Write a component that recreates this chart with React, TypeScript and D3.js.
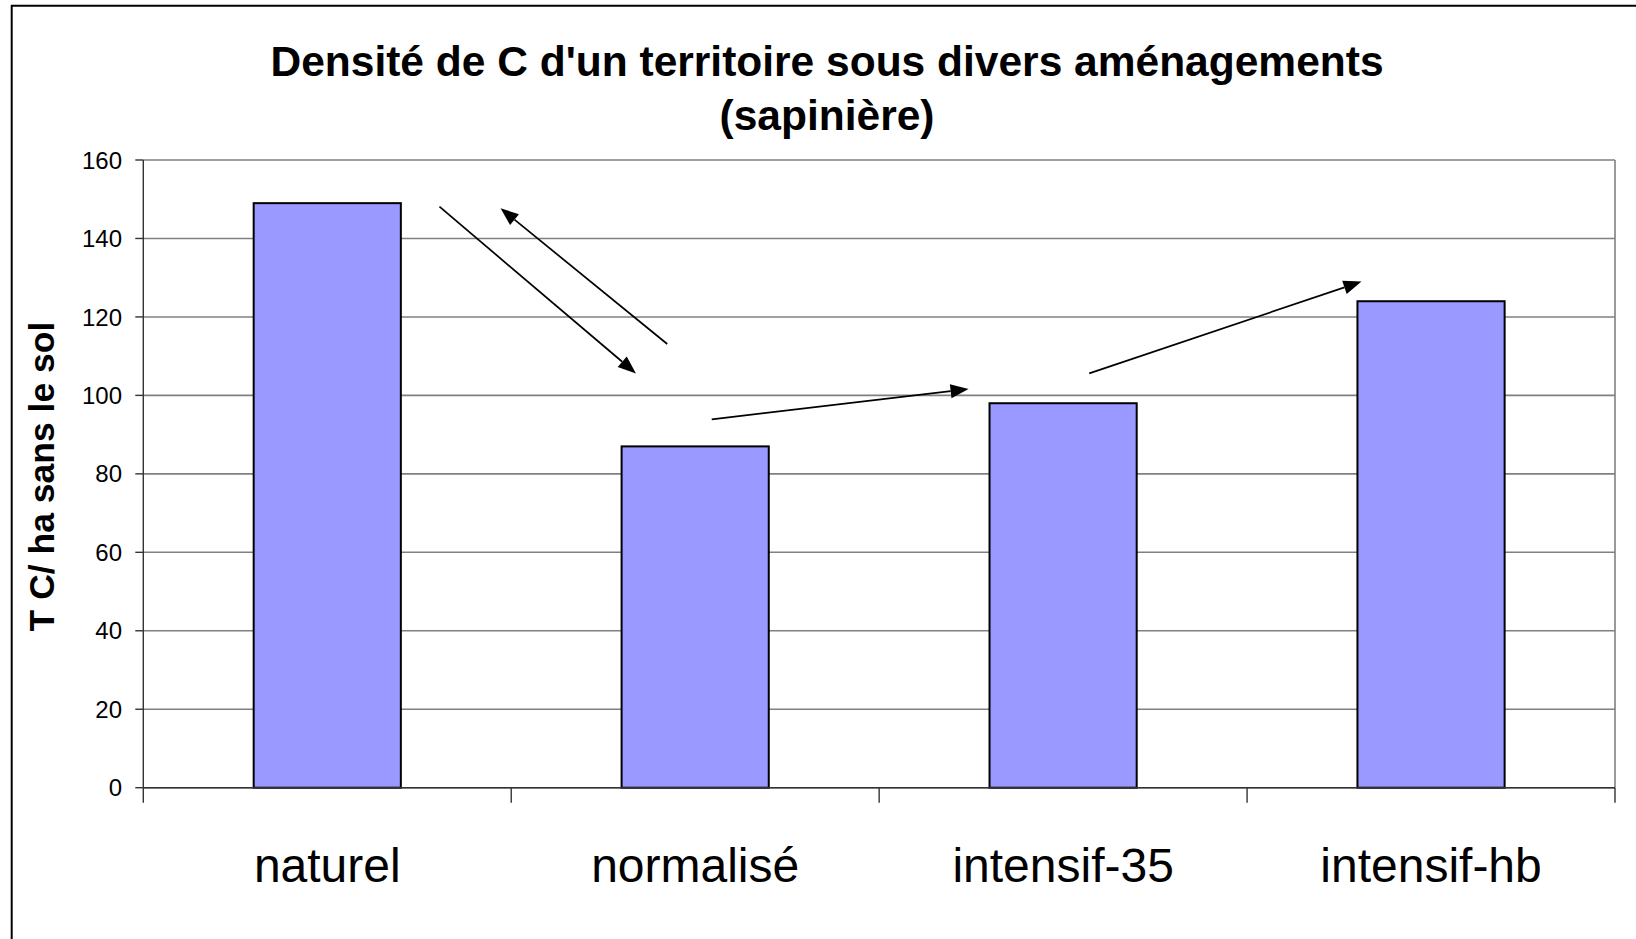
import React from "react";
import * as d3 from "d3";

const categories: string[] = ["naturel", "normalisé", "intensif-35", "intensif-hb"];
const values: number[] = [149, 87, 98, 124];
const yTicks: number[] = [0, 20, 40, 60, 80, 100, 120, 140, 160];
const titleLines: string[] = ["Densité de C d'un territoire sous divers aménagements", "(sapinière)"];
const yLabel = "T C/ ha sans le sol";
// arrows in data coordinates: [categoryPosition, value] start -> end (category position 0..4 along axis)
const arrowStarts: [number, number][] = [[0.805, 148.1], [1.424, 113.1], [1.545, 93.9], [2.571, 105.6]];
const arrowEnds: [number, number][] = [[1.339, 105.6], [0.971, 147.7], [2.243, 101.6], [3.311, 129.0]];

const W = 1636;
const H = 939;
const plot = { left: 143.3, right: 1615, top: 160, bottom: 787.7 };
const FONT = "'Liberation Sans', Arial, Helvetica, sans-serif";

export default function App() {
  const x = d3.scaleBand<string>().domain(categories).range([plot.left, plot.right]).paddingInner(0.6).paddingOuter(0.3);
  const xLin = d3.scaleLinear().domain([0, categories.length]).range([plot.left, plot.right]);
  const y = d3.scaleLinear().domain([0, 160]).range([plot.bottom, plot.top]);
  const boundaries = d3.range(categories.length + 1).map((i) => xLin(i));

  const headLen = 18;
  const headHalf = 7;

  return (
    <svg
      width={W}
      height={H}
      style={{ position: "absolute", left: 0, top: 0, display: "block", background: "#fff" }}
      fontFamily={FONT}
    >
      <rect x={0} y={0} width={W} height={H} fill="#fff" />
      {/* outer frame */}
      <line x1={11.7} y1={5} x2={11.7} y2={H} stroke="#000" strokeWidth={2} />
      <line x1={11} y1={5.7} x2={W} y2={5.7} stroke="#000" strokeWidth={2} />

      {/* title */}
      {titleLines.map((t, i) => (
        <text key={t} x={827} y={76 + i * 54} textAnchor="middle" fontWeight="bold" fontSize={42.5} fill="#000">
          {t}
        </text>
      ))}

      {/* gridlines */}
      {yTicks.map((t) => (
        <line key={"g" + t} x1={plot.left} x2={plot.right} y1={y(t)} y2={y(t)} stroke="#808080" strokeWidth={1.6} />
      ))}
      {/* plot right border */}
      <line x1={plot.right} x2={plot.right} y1={plot.top} y2={plot.bottom} stroke="#808080" strokeWidth={1.6} />

      {/* bars */}
      {categories.map((c, i) => (
        <rect
          key={c}
          x={x(c)}
          y={y(values[i])}
          width={x.bandwidth()}
          height={y(0) - y(values[i])}
          fill="#9999FF"
          stroke="#000"
          strokeWidth={2}
        />
      ))}

      {/* y axis */}
      <line x1={plot.left} x2={plot.left} y1={plot.top} y2={plot.bottom} stroke="#333" strokeWidth={1.4} />
      {yTicks.map((t) => (
        <g key={"t" + t}>
          <line x1={plot.left - 8} x2={plot.left} y1={y(t)} y2={y(t)} stroke="#333" strokeWidth={1.4} />
          <text x={122} y={y(t)} dy="0.36em" textAnchor="end" fontSize={24} fill="#000">
            {t}
          </text>
        </g>
      ))}

      {/* x axis */}
      <line x1={plot.left} x2={plot.right} y1={plot.bottom} y2={plot.bottom} stroke="#333" strokeWidth={1.6} />
      {boundaries.map((b, i) => (
        <line key={"xb" + i} x1={b} x2={b} y1={plot.bottom} y2={plot.bottom + 15} stroke="#333" strokeWidth={1.4} />
      ))}
      {categories.map((c) => (
        <text key={"l" + c} x={(x(c) as number) + x.bandwidth() / 2} y={881.7} textAnchor="middle" fontSize={48} fill="#000">
          {c}
        </text>
      ))}

      {/* y label */}
      <text
        transform={`translate(54, 476.5) rotate(-90)`}
        textAnchor="middle"
        fontWeight="bold"
        fontSize={35.5}
        fill="#000"
      >
        {yLabel}
      </text>

      {/* arrows */}
      {arrowStarts.map((s, i) => {
        const e = arrowEnds[i];
        const x1 = xLin(s[0]);
        const y1 = y(s[1]);
        const x2 = xLin(e[0]);
        const y2 = y(e[1]);
        const ang = Math.atan2(y2 - y1, x2 - x1);
        const bx = x2 - headLen * Math.cos(ang);
        const by = y2 - headLen * Math.sin(ang);
        const px = -Math.sin(ang) * headHalf;
        const py = Math.cos(ang) * headHalf;
        const head = d3.path();
        head.moveTo(x2, y2);
        head.lineTo(bx + px, by + py);
        head.lineTo(bx - px, by - py);
        head.closePath();
        return (
          <g key={"a" + i}>
            <line x1={x1} y1={y1} x2={bx} y2={by} stroke="#000" strokeWidth={1.7} />
            <path d={head.toString()} fill="#000" />
          </g>
        );
      })}
    </svg>
  );
}
